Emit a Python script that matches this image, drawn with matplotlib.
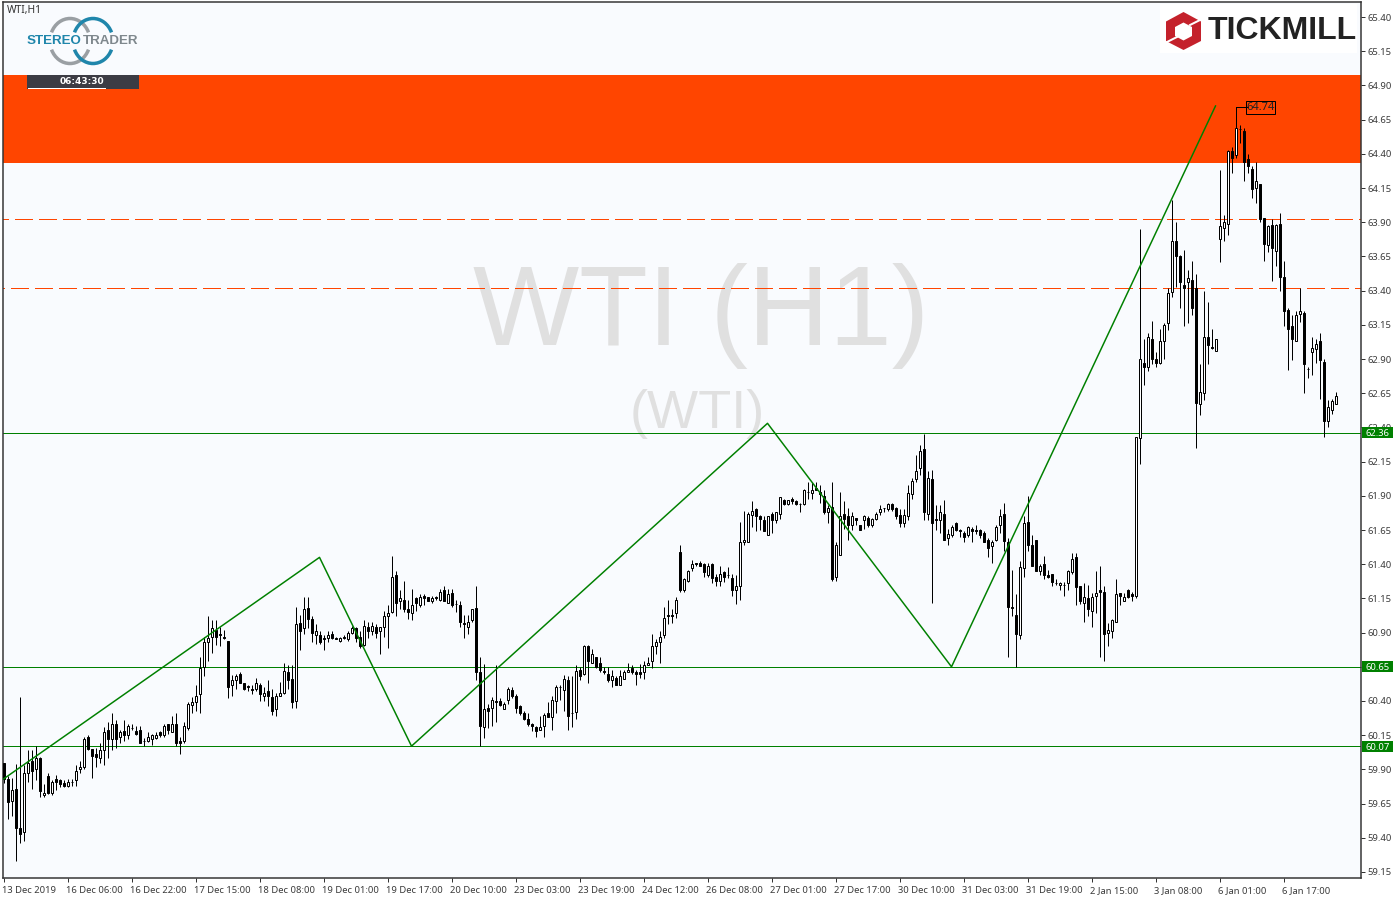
import numpy as np
import matplotlib
matplotlib.use('Agg')
import matplotlib.pyplot as plt
from matplotlib.patches import Arc, Polygon, Rectangle
from matplotlib.transforms import ScaledTranslation

plt.rcParams['font.family'] = ['Noto Sans', 'DejaVu Sans']
plt.rcParams['lines.scale_dashes'] = False

# WTI H1 candles
opens = [59.95,59.83,59.67,59.76,59.47,59.44,59.87,59.96,59.90,59.98,
    59.71,59.85,59.73,59.83,59.82,59.80,59.78,59.81,59.82,59.90,
    59.92,60.14,60.05,60.01,59.98,60.04,60.19,60.12,60.23,60.14,
    60.18,60.15,60.20,60.18,60.19,60.11,60.11,60.12,60.13,60.17,
    60.15,60.23,60.17,60.23,60.11,60.11,60.20,60.37,60.39,60.45,
    60.65,60.83,60.87,60.92,60.89,60.87,60.84,60.52,60.55,60.60,
    60.53,60.51,60.49,60.49,60.52,60.44,60.47,60.43,60.34,60.44,
    60.46,60.61,60.56,60.40,60.97,60.93,61.08,61.00,60.88,60.88,
    60.86,60.86,60.89,60.86,60.84,60.87,60.85,60.90,60.93,60.87,
    60.81,60.94,60.91,60.94,60.91,60.94,61.02,61.05,61.32,61.13,
    61.14,61.07,61.04,61.15,61.10,61.17,61.16,61.13,61.16,61.14,
    61.21,61.12,61.19,61.11,61.10,60.97,60.94,60.99,61.08,60.61,
    60.21,60.35,60.35,60.40,60.40,60.34,60.41,60.48,60.44,60.36,
    60.31,60.27,60.23,60.21,60.19,60.22,60.31,60.28,60.40,60.50,
    60.48,60.55,60.31,60.32,60.63,60.60,60.80,60.68,60.72,60.68,
    60.62,60.60,60.55,60.57,60.52,60.56,60.61,60.64,60.61,60.61,
    60.61,60.66,60.69,60.80,60.83,60.88,61.03,61.03,61.04,61.49,
    61.21,61.28,61.37,61.41,61.41,61.40,61.32,61.40,61.31,61.28,
    61.34,61.32,61.30,61.21,61.24,61.56,61.56,61.76,61.80,61.75,
    61.72,61.61,61.77,61.72,61.77,61.87,61.84,61.88,61.86,61.84,
    61.84,61.93,61.92,61.96,61.93,61.90,61.78,61.82,61.31,61.47,
    61.77,61.75,61.69,61.74,61.69,61.72,61.74,61.69,61.73,61.78,
    61.81,61.80,61.84,61.81,61.76,61.70,61.75,61.91,62.02,62.10,
    62.24,61.77,62.02,61.73,61.72,61.77,61.59,61.61,61.70,61.65,
    61.63,61.61,61.66,61.65,61.65,61.63,61.58,61.53,61.58,61.69,
    61.77,61.56,61.09,61.03,60.88,61.37,61.71,61.54,61.58,61.35,
    61.40,61.32,61.33,61.26,61.25,61.25,61.26,61.34,61.45,61.24,
    61.12,61.15,61.06,61.17,61.21,61.20,60.90,60.91,60.98,61.19,
    61.13,61.21,61.18,61.17,62.32,62.87,62.84,63.05,62.90,62.87,
    63.03,63.16,63.39,63.76,63.65,63.44,63.46,63.48,63.42,62.57,
    62.65,63.06,62.99,62.96,63.78,63.86,63.89,64.42,64.39,64.58,
    64.57,64.36,64.29,64.15,64.18,63.93,63.73,63.88,63.69,63.89,
    63.50,63.26,63.14,63.03,63.23,63.24,62.83,62.95,62.97,63.03,
    62.88,62.45,62.53,62.57]
highs = [59.95,59.85,59.84,59.94,60.43,59.93,60.04,60.04,60.07,59.99,
    59.79,59.87,59.82,59.86,59.83,59.82,59.83,59.83,59.93,59.96,
    60.14,60.15,60.05,60.06,60.09,60.21,60.25,60.31,60.26,60.19,
    60.26,60.23,60.23,60.22,60.22,60.13,60.17,60.16,60.17,60.18,
    60.23,60.23,60.29,60.31,60.14,60.25,60.39,60.43,60.52,60.72,
    60.87,61.02,60.99,60.99,60.94,60.92,60.84,60.59,60.60,60.61,
    60.53,60.52,60.52,60.57,60.53,60.50,60.55,60.49,60.46,60.54,
    60.68,60.66,60.66,61.09,61.03,61.16,61.16,61.02,60.96,60.91,
    60.88,60.91,60.91,60.87,60.87,60.88,60.91,60.95,60.94,60.91,
    60.99,60.98,60.98,60.96,60.94,61.06,61.10,61.46,61.35,61.21,
    61.28,61.14,61.22,61.16,61.18,61.18,61.16,61.17,61.17,61.22,
    61.24,61.22,61.22,61.14,61.13,61.03,61.03,61.07,61.24,60.72,
    60.67,60.38,60.43,60.66,60.42,60.39,60.50,60.50,60.45,60.37,
    60.33,60.31,60.24,60.22,60.29,60.31,60.39,60.44,60.52,60.52,
    60.59,60.58,60.58,60.66,60.65,60.81,60.81,60.78,60.72,60.72,
    60.65,60.65,60.63,60.58,60.63,60.63,60.68,60.66,60.63,60.67,
    60.69,60.72,60.89,60.85,60.91,61.09,61.14,61.07,61.16,61.54,
    61.30,61.36,61.43,61.41,61.42,61.41,61.41,61.41,61.33,61.39,
    61.35,61.38,61.33,61.32,61.71,61.79,61.78,61.86,61.81,61.76,
    61.75,61.75,61.78,61.78,61.89,61.88,61.87,61.89,61.87,61.85,
    61.95,62.00,62.00,62.00,61.98,61.94,61.83,62.00,61.56,61.93,
    61.86,61.81,61.78,61.74,61.69,61.76,61.75,61.74,61.78,61.83,
    61.81,61.85,61.85,61.82,61.80,61.80,61.98,62.03,62.20,62.27,
    62.35,62.08,62.09,61.83,61.83,61.87,61.66,61.69,61.71,61.66,
    61.64,61.68,61.67,61.69,61.66,61.64,61.59,61.58,61.69,61.80,
    61.85,61.59,61.36,61.18,61.42,61.75,61.90,61.61,61.58,61.40,
    61.46,61.36,61.33,61.29,61.27,61.27,61.36,61.48,61.48,61.24,
    61.26,61.25,61.19,61.35,61.39,61.24,60.97,61.00,61.29,61.19,
    61.19,61.22,61.20,62.33,63.85,63.05,63.09,63.18,62.95,63.12,
    63.16,63.42,64.06,63.90,63.66,63.70,63.55,63.62,63.52,62.86,
    63.40,63.32,63.12,63.05,64.28,63.95,64.43,64.45,64.59,64.61,
    64.59,64.40,64.31,64.34,64.18,63.93,63.88,63.92,63.89,63.97,
    63.62,63.27,63.22,63.25,63.42,63.25,62.84,63.06,63.05,63.09,
    62.90,62.60,62.61,62.66]
lows = [59.80,59.54,59.56,59.23,59.36,59.38,59.81,59.76,59.82,59.70,
    59.70,59.72,59.71,59.75,59.77,59.77,59.77,59.78,59.78,59.87,
    59.90,60.04,59.84,59.92,59.95,59.93,59.98,60.04,60.06,60.09,
    60.11,60.12,60.19,60.15,60.09,60.07,60.10,60.08,60.12,60.14,
    60.14,60.16,60.17,60.07,60.01,60.09,60.19,60.31,60.33,60.31,
    60.58,60.69,60.75,60.81,60.80,60.85,60.42,60.44,60.49,60.53,
    60.48,60.47,60.45,60.47,60.40,60.40,60.36,60.30,60.29,60.44,
    60.45,60.49,60.35,60.35,60.77,60.89,60.93,60.83,60.82,60.82,
    60.77,60.83,60.85,60.85,60.83,60.85,60.84,60.89,60.83,60.79,
    60.80,60.86,60.88,60.86,60.74,60.87,60.79,61.04,61.02,61.07,
    61.05,61.00,60.99,61.06,61.09,61.10,61.13,61.12,61.14,61.13,
    61.13,61.12,61.09,61.05,60.94,60.86,60.89,60.98,60.55,60.07,
    60.13,60.20,60.22,60.25,60.36,60.34,60.38,60.42,60.31,60.30,
    60.26,60.22,60.18,60.14,60.19,60.14,60.28,60.19,60.31,60.41,
    60.33,60.19,60.21,60.27,60.55,60.59,60.53,60.68,60.64,60.61,
    60.60,60.54,60.50,60.52,60.52,60.56,60.61,60.60,60.52,60.57,
    60.56,60.66,60.64,60.74,60.68,60.86,60.96,60.97,61.01,61.20,
    61.20,61.27,61.35,61.39,61.39,61.31,61.31,61.26,61.24,61.24,
    61.27,61.30,61.17,61.11,61.14,61.54,61.56,61.67,61.64,61.65,
    61.64,61.61,61.63,61.70,61.73,61.83,61.83,61.84,61.83,61.78,
    61.83,61.88,61.88,61.94,61.85,61.77,61.70,61.28,61.28,61.47,
    61.66,61.58,61.65,61.69,61.65,61.66,61.67,61.67,61.72,61.76,
    61.78,61.79,61.79,61.73,61.67,61.67,61.72,61.88,62.00,62.05,
    61.72,61.72,61.12,61.65,61.63,61.58,61.54,61.60,61.64,61.60,
    61.56,61.60,61.56,61.62,61.59,61.56,61.45,61.41,61.57,61.63,
    61.50,60.72,61.02,60.65,60.85,61.31,61.50,61.39,61.35,61.32,
    61.29,61.30,61.24,61.25,61.21,61.17,61.21,61.33,61.10,61.11,
    60.98,61.02,60.94,61.04,60.72,60.69,60.80,60.86,60.98,61.10,
    61.13,61.15,61.13,61.15,62.13,62.71,62.81,62.86,62.84,62.86,
    62.90,63.11,63.35,63.43,63.27,63.14,63.16,63.22,62.25,62.49,
    62.60,62.86,62.97,62.96,63.61,63.76,63.81,64.26,64.37,64.48,
    64.20,64.26,64.08,64.04,63.90,63.62,63.68,63.47,63.58,63.40,
    63.14,62.82,62.89,63.03,63.17,62.65,62.76,62.78,62.87,62.61,
    62.33,62.40,62.50,62.57]
closes = [59.83,59.66,59.75,59.47,59.43,59.87,59.95,59.89,59.98,59.74,
    59.73,59.73,59.81,59.81,59.79,59.78,59.81,59.81,59.89,59.92,
    60.12,60.05,60.00,59.99,60.04,60.17,60.12,60.23,60.12,60.17,
    60.15,60.22,60.20,60.16,60.09,60.11,60.14,60.15,60.15,60.15,
    60.22,60.19,60.23,60.09,60.09,60.22,60.38,60.39,60.44,60.64,
    60.83,60.86,60.93,60.87,60.88,60.86,60.50,60.55,60.58,60.53,
    60.49,60.50,60.48,60.53,60.45,60.46,60.44,60.33,60.44,60.46,
    60.62,60.55,60.39,60.96,60.91,61.07,61.00,60.90,60.91,60.83,
    60.85,60.88,60.86,60.85,60.86,60.86,60.90,60.93,60.86,60.80,
    60.95,60.91,60.95,60.90,60.94,61.02,61.04,61.31,61.12,61.15,
    61.07,61.05,61.10,61.12,61.16,61.15,61.13,61.15,61.15,61.20,
    61.13,61.18,61.10,61.11,60.98,60.96,60.98,61.07,60.61,60.22,
    60.34,60.33,60.41,60.39,60.37,60.38,60.49,60.44,60.35,60.31,
    60.27,60.23,60.22,60.18,60.21,60.30,60.28,60.41,60.50,60.50,
    60.56,60.29,60.31,60.62,60.58,60.80,60.69,60.74,60.65,60.63,
    60.61,60.55,60.58,60.52,60.58,60.61,60.63,60.61,60.60,60.60,
    60.66,60.68,60.80,60.83,60.87,61.01,61.02,61.02,61.14,61.21,
    61.29,61.35,61.40,61.40,61.39,61.34,61.39,61.30,61.28,61.33,
    61.31,61.32,61.21,61.24,61.56,61.58,61.77,61.79,61.75,61.73,
    61.64,61.75,61.72,61.78,61.89,61.84,61.87,61.86,61.84,61.84,
    61.94,61.93,61.94,61.94,61.91,61.78,61.81,61.29,61.54,61.75,
    61.73,61.69,61.75,61.72,61.65,61.75,61.69,61.73,61.77,61.80,
    61.81,61.84,61.80,61.75,61.70,61.76,61.92,62.01,62.08,62.23,
    61.78,62.03,61.70,61.72,61.78,61.58,61.62,61.67,61.65,61.64,
    61.60,61.67,61.64,61.64,61.61,61.56,61.52,61.56,61.67,61.75,
    61.57,61.09,61.08,60.89,61.38,61.70,61.54,61.39,61.35,61.39,
    61.32,61.31,61.27,61.26,61.26,61.25,61.35,61.44,61.23,61.13,
    61.16,61.07,61.16,61.19,61.20,60.89,60.92,60.99,61.18,61.17,
    61.16,61.16,61.17,62.33,62.90,62.84,63.06,62.90,62.87,63.03,
    63.15,63.38,63.76,63.65,63.46,63.42,63.49,63.27,62.58,62.66,
    63.06,63.00,62.98,63.05,63.87,63.90,64.42,64.37,64.59,64.58,
    64.34,64.31,64.14,64.20,63.92,63.74,63.87,63.71,63.88,63.50,
    63.25,63.12,63.05,63.22,63.25,62.86,62.83,62.98,63.01,62.89,
    62.45,62.55,62.59,62.63]

# zigzag turning points
zigzag_bars = [0, 79, 102, 191, 237, 303]
zigzag_prices = [59.83, 61.45, 60.07, 62.43, 60.65, 64.75]

support_levels = [62.36, 60.65, 60.07]
dashed_levels = [63.92, 63.42]
zone_low, zone_high = 64.335, 64.978
peak_bar, peak_price = 308, 64.74

price_ticks = [59.15 + 0.25 * k for k in range(26)]
time_labels = ['13 Dec 2019', '16 Dec 06:00', '16 Dec 22:00', '17 Dec 15:00', '18 Dec 08:00',
    '19 Dec 01:00', '19 Dec 17:00', '20 Dec 10:00', '23 Dec 03:00', '23 Dec 19:00',
    '24 Dec 12:00', '26 Dec 08:00', '27 Dec 01:00', '27 Dec 17:00', '30 Dec 10:00',
    '31 Dec 03:00', '31 Dec 19:00', '2 Jan 15:00', '3 Jan 08:00', '6 Jan 01:00', '6 Jan 17:00']

W, H = 1400, 900
BG = '#F9FBFE'
GREEN = '#008000'
ORANGE = '#FF4500'
px = 72 / 100  # one pixel in points

fig = plt.figure(figsize=(14, 9), dpi=100, facecolor='white')
ax = fig.add_axes([3 / W, 1 - 878 / H, (1361 - 3) / W, (878 - 2) / H], facecolor=BG)
ax.set_xlim(-0.125, 339.375)
ax.set_ylim(59.106, 65.51)

o, h, l, c = map(np.array, (opens, highs, lows, closes))
bars = np.arange(len(o))
up = c >= o

ax.axhspan(zone_low, zone_high, color=ORANGE, lw=0, zorder=1)
ax.text(174.5, 63.0, 'WTI (H1)', fontsize=81, color='#E0E0E0', family='Liberation Sans',
    ha='center', va='baseline', zorder=1.5)
ax.text(173.5, 62.395, '(WTI)', fontsize=39, color='#E0E0E0', family='Liberation Sans',
    ha='center', va='baseline', zorder=1.5)

for lev in support_levels:
    ax.axhline(lev, color=GREEN, lw=1 * px, zorder=2, antialiased=False)
for lev, phase in zip(dashed_levels, (12, 16)):
    ax.axhline(lev, color=ORANGE, lw=1 * px, zorder=2, antialiased=False,
        linestyle=(phase * px, (18 * px, 6 * px)))

ax.vlines(bars, l, h, color='black', lw=1 * px, zorder=3)
ax.bar(bars[up], (c - o)[up], bottom=o[up], width=0.5, facecolor='white',
    edgecolor='black', linewidth=1 * px, zorder=3.1)
ax.bar(bars[~up], (o - c)[~up], bottom=c[~up], width=0.5, facecolor='black',
    edgecolor='black', linewidth=1 * px, zorder=3.1)

ax.plot(zigzag_bars, zigzag_prices, color=GREEN, lw=1.5 * px, zorder=4)

# last high marker with its price box
ax.plot([peak_bar, peak_bar, peak_bar + 3], [h[peak_bar], peak_price, peak_price],
    color='black', lw=1 * px, zorder=4, antialiased=False)
ax.text(peak_bar + 6.25, peak_price, f'{peak_price:.2f}', fontsize=8, color='#222222',
    ha='center', va='center', zorder=5,
    bbox=dict(facecolor='none', edgecolor='black', linewidth=1 * px, pad=0.6))

ax.yaxis.tick_right()
ax.set_yticks(price_ticks)
# 60.65 sits fully under its green price box
ax.set_yticklabels(['' if abs(p - 60.65) < 0.001 else f'{p:.2f}' for p in price_ticks])
ax.tick_params(axis='y', length=3, width=1 * px, pad=1.5, labelsize=6.8, labelcolor='#3a3a3a', color='#333333')
ax.set_xticks(bars[::16][:len(time_labels)])
ax.set_xticklabels(time_labels)
ax.tick_params(axis='x', length=3, width=1 * px, pad=2.5, labelsize=6.8, labelcolor='#3a3a3a', color='#333333')
shift = ScaledTranslation(-1.5 / 100, 0, fig.dpi_scale_trans)
for lbl in ax.get_xticklabels():
    lbl.set_horizontalalignment('left')
    lbl.set_transform(lbl.get_transform() + shift)
for sp in ax.spines.values():
    sp.set_color('#333333')
    sp.set_linewidth(1.5 * px)

for lev in support_levels:
    ax.add_patch(Rectangle((1.001, lev - 0.04), 31 / 1358, 0.08, transform=ax.get_yaxis_transform(),
        facecolor=GREEN, edgecolor='none', zorder=9, clip_on=False))
    ax.text(1.0035, lev, f'{lev:.2f}', transform=ax.get_yaxis_transform(), fontsize=6.8,
        color='white', va='center_baseline', ha='left', zorder=10, clip_on=False)

# pixel overlay for the logos and the timer
ov = fig.add_axes([0, 0, 1, 1], facecolor='none')
ov.set_xlim(0, W)
ov.set_ylim(H, 0)
ov.axis('off')

ov.text(7, 10.5, 'WTI,H1', fontsize=7.4, color='#333333', va='center', ha='left')

for cx, col in ((70, '#9A9FA3'), (93, '#1F86AB')):
    for t1, t2 in ((205, 335), (25, 155)):
        ov.add_patch(Arc((cx, 41), 40, 45, theta1=t1, theta2=t2, color=col, lw=3.5 * px))
ov.text(27, 41, 'STEREO', fontsize=9.6, color='#1F86AB', family='Liberation Sans', weight='bold',
    va='center', ha='left', zorder=3)
ov.text(83, 41, 'TRADER', fontsize=9.6, color='#7F888D', family='Liberation Sans', weight='bold',
    va='center', ha='left', zorder=3)

ov.add_patch(Rectangle((27, 75), 112, 14, facecolor='#3C3C44', edgecolor='none'))
ov.plot([28, 105], [87.5, 87.5], color='white', lw=1 * px)
ov.text(82, 81.5, '06:43:30', fontsize=6.5, color='white', family='DejaVu Sans', weight='bold',
    va='center', ha='center')

ov.add_patch(Rectangle((1160, 4), 197, 49, facecolor='white', edgecolor='none'))
hex_out = [(1183.5, 12), (1201, 21.5), (1201, 41), (1183.5, 50), (1166, 41), (1166, 21.5)]
hex_in = [(1183.5, 22.5), (1192, 27), (1192, 36), (1183.5, 40.5), (1175, 36), (1175, 27)]
ov.add_patch(Polygon(hex_out, facecolor='#C4212B', edgecolor='none'))
ov.add_patch(Polygon(hex_in, facecolor='white', edgecolor='none'))
ov.plot([1190, 1200], [25, 20], color='white', lw=2 * px)
ov.plot([1167, 1177], [42, 37], color='white', lw=2 * px)
ov.text(1208, 31, 'TICKMILL', fontsize=23, color='#222222', family='Liberation Sans',
    weight='bold', va='center', ha='left')

fig.savefig('out.png', dpi=100, facecolor='white')
